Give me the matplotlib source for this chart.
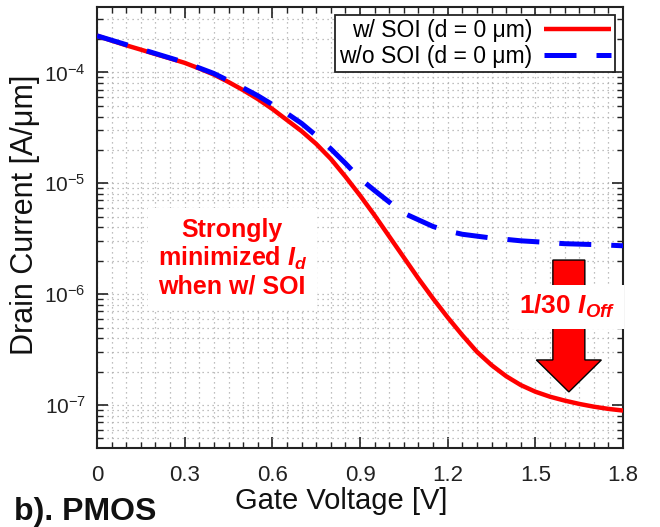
import numpy as np
import matplotlib.pyplot as plt
from matplotlib.patches import Polygon
from matplotlib.ticker import FixedLocator, LogLocator, MultipleLocator, FuncFormatter, NullFormatter

plt.rcParams["font.family"] = ["Liberation Sans", "DejaVu Sans"]
plt.rcParams["mathtext.fontset"] = "custom"
plt.rcParams["mathtext.rm"] = "Liberation Sans"
plt.rcParams["mathtext.it"] = "Liberation Sans:italic"
plt.rcParams["mathtext.bf"] = "Liberation Sans:bold"
plt.rcParams["mathtext.bfit"] = "Liberation Sans:italic:bold"

# gate voltage [V]
vg = [0.0, 0.05, 0.1, 0.15, 0.2, 0.25, 0.3, 0.35, 0.4, 0.45,
      0.5, 0.55, 0.6, 0.65, 0.7, 0.75, 0.8, 0.85, 0.9, 0.95,
      1.0, 1.05, 1.1, 1.15, 1.2, 1.25, 1.3, 1.35, 1.4, 1.45,
      1.5, 1.55, 1.6, 1.65, 1.7, 1.75, 1.8]
# log10 of drain current [A/um], with SOI
log_id_soi = [-3.67, -3.713, -3.756, -3.795, -3.835, -3.874, -3.914, -3.965, -4.02, -4.087,
              -4.16, -4.24, -4.33, -4.43, -4.53, -4.645, -4.78, -4.94, -5.11, -5.29,
              -5.48, -5.67, -5.86, -6.04, -6.21, -6.37, -6.52, -6.64, -6.74, -6.82,
              -6.88, -6.925, -6.96, -6.99, -7.015, -7.035, -7.05]
# log10 of drain current [A/um], without SOI
log_id_nosoi = [-3.67, -3.71, -3.75, -3.79, -3.83, -3.87, -3.91, -3.96, -4.01, -4.075,
                -4.14, -4.21, -4.29, -4.37, -4.46, -4.57, -4.69, -4.82, -4.958, -5.066,
                -5.17, -5.27, -5.33, -5.39, -5.43, -5.46, -5.477, -5.494, -5.506, -5.519,
                -5.527, -5.536, -5.545, -5.549, -5.553, -5.558, -5.564]

x_ticks = [0, 0.3, 0.6, 0.9, 1.2, 1.5, 1.8]
x_tick_labels = ["0", "0.3", "0.6", "0.9", "1.2", "1.5", "1.8"]
y_ticks = [1e-7, 1e-6, 1e-5, 1e-4]

fig = plt.figure(figsize=(6.6, 5.27), dpi=100)
ax = fig.add_axes([0.147, 0.150, 0.797, 0.837])

ax.plot(vg, 10 ** np.array(log_id_soi), color="#ff0000", lw=3.2,
        solid_capstyle="butt", label="w/ SOI (d = 0 μm)", zorder=3)
ax.plot(vg, 10 ** np.array(log_id_nosoi), color="#0000ff", lw=3.6,
        dashes=(6.4, 4.0), label="w/o SOI (d = 0 μm)", zorder=4)

ax.set_yscale("log")
ax.set_xlim(0, 1.8)
ax.set_ylim(4.1e-8, 3.9e-4)

ax.xaxis.set_major_locator(FixedLocator(x_ticks))
ax.set_xticklabels(x_tick_labels)
ax.xaxis.set_minor_locator(MultipleLocator(0.05))
ax.yaxis.set_major_locator(FixedLocator(y_ticks))
ax.yaxis.set_major_formatter(FuncFormatter(lambda v, p: r"$\mathregular{10^{%d}}$" % round(np.log10(v))))
ax.yaxis.set_minor_locator(LogLocator(base=10, subs=np.arange(2, 10), numticks=20))
ax.yaxis.set_minor_formatter(NullFormatter())

ax.tick_params(which="both", direction="in", top=True, right=True, color="#222222")
ax.tick_params(which="major", length=8, width=1.2)
ax.tick_params(which="minor", length=4, width=1.0)
ax.tick_params(axis="x", labelsize=16, pad=12, labelcolor="#222222")
ax.tick_params(axis="y", labelsize=15, pad=8, labelcolor="#222222")

for s in ax.spines.values():
    s.set_linewidth(1.5)
    s.set_color("#222222")

ax.grid(True, which="both", color="#aaaaaa", linestyle=(0, (1, 3)), linewidth=0.9)
ax.set_axisbelow(True)

ax.set_xlabel("Gate Voltage [V]", fontsize=21, color="#111111")
ax.xaxis.set_label_coords(0.464, -0.088)
ax.set_ylabel("Drain Current [A/μm]", fontsize=22, color="#111111")
ax.yaxis.set_label_coords(-0.108, 0.528)

leg = ax.legend(loc="upper right", bbox_to_anchor=(0.985, 0.982), borderaxespad=0,
                fontsize=16.5, markerfirst=False, handlelength=2.9, fancybox=False,
                framealpha=1, edgecolor="#222222", borderpad=0.2, labelspacing=0.1,
                handletextpad=0.5)
leg.get_frame().set_linewidth(1.3)
leg.set_zorder(10)

ax.text(0.257, 0.43, "Strongly\nminimized $\\mathbfit{I}_{\\mathbfit{d}}$\nwhen w/ SOI",
        transform=ax.transAxes, ha="center", va="center", multialignment="center",
        fontsize=18, fontweight="bold", color="#ff0000", linespacing=1.15,
        bbox=dict(fc="white", ec="none", pad=7), zorder=6)

# down arrow
xc, hw, hh = 0.897, 0.0304, 0.0618
arrow = Polygon([(xc - hw, 0.426), (xc + hw, 0.426), (xc + hw, 0.1995), (xc + hh, 0.1995),
                 (xc, 0.127), (xc - hh, 0.1995), (xc - hw, 0.1995)],
                closed=True, transform=ax.transAxes, fc="#ff0000", ec="black", lw=1.0, zorder=7)
ax.add_patch(arrow)

ax.text(0.894, 0.32, "1/30 $\\mathbfit{I}_{\\mathbfit{Off}}$", transform=ax.transAxes,
        ha="center", va="center", fontsize=19, fontweight="bold", color="#ff0000",
        bbox=dict(fc="white", ec="none", pad=6), zorder=8, clip_on=False)

fig.text(0.021, 0.013, "b). PMOS", fontsize=23, fontweight="bold", color="#111111",
         ha="left", va="baseline")

fig.savefig("out.png", dpi=100)
